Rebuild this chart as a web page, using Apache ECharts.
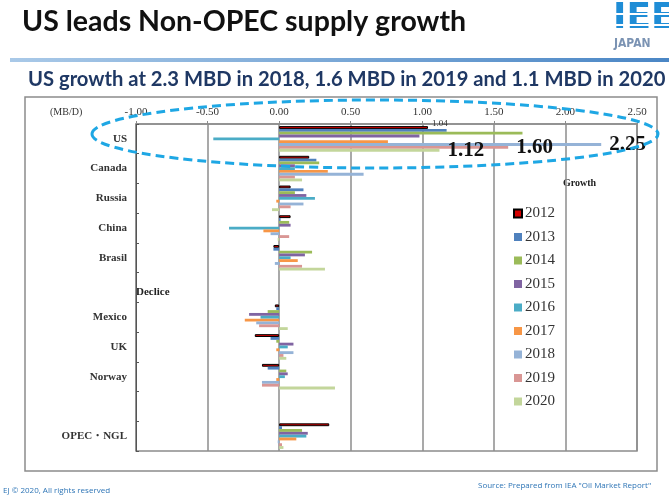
<!DOCTYPE html>
<html>
<head>
<meta charset="utf-8">
<script src="https://cdn.jsdelivr.net/npm/echarts@6/dist/echarts.min.js"></script>
<style>
  html, body { margin: 0; padding: 0; background: #fff; }
  #chart { width: 669px; height: 500px; }
</style>
</head>
<body>
<div id="chart"></div>
<script>
  // categories (the two blank rows are spacers in the original slide)
  var categories = ['US', 'Canada', 'Russia', 'China', 'Brasil', ' ', 'Mexico', 'UK', 'Norway', '  ', 'OPEC・NGL']
  var years = ['2012', '2013', '2014', '2015', '2016', '2017', '2018', '2019', '2020']
  var xTicks = { min: -1, max: 2.5, interval: 0.5 }

  // MB/D growth per year, same order as categories
  var y2012 = [1.04, 0.21, 0.08, 0.08, -0.04, null, -0.03, -0.17, -0.12, null, 0.35]
  var y2013 = [1.17, 0.26, 0.17, 0.01, -0.04, null, -0.02, -0.06, -0.08, null, 0.02]
  var y2014 = [1.70, 0.28, 0.11, 0.07, 0.23, null, -0.08, -0.02, 0.05, null, 0.16]
  var y2015 = [0.98, 0.11, 0.19, 0.08, 0.18, null, -0.21, 0.10, 0.06, null, 0.20]
  var y2016 = [-0.46, 0.11, 0.25, -0.35, 0.08, null, -0.13, 0.06, 0.04, null, 0.19]
  var y2017 = [0.76, 0.34, -0.02, -0.11, 0.13, null, -0.24, -0.02, -0.02, null, 0.12]
  var y2018 = [2.25, 0.59, 0.17, -0.06, -0.03, null, -0.16, 0.10, -0.12, null, -0.01]
  var y2019 = [1.60, 0.11, 0.08, 0.07, 0.16, null, -0.14, 0.03, -0.12, null, 0.02]
  var y2020 = [1.12, 0.16, -0.05, -0.01, 0.32, null, 0.06, 0.05, 0.39, null, 0.03]

  var yearData = [y2012, y2013, y2014, y2015, y2016, y2017, y2018, y2019, y2020]
  var colors = ['#d40000', '#4f81bd', '#9bbb59', '#8064a2', '#4bacc6', '#f79646', '#95b3d7', '#d99694', '#c3d69b']

  var serif = 'Liberation Serif, Times New Roman, serif'

  // US value call-outs: big labels for 2018-2020, small one for 2012
  var bigLabel = {
    show: true, position: 'right', distance: 8,
    fontFamily: serif, fontWeight: 'bold', fontSize: 21, color: '#111',
    formatter: function(p) { return p.value.toFixed(2) }
  }
  var smallLabel = {
    show: true, position: 'right', distance: 4, offset: [0, -4],
    fontFamily: serif, fontSize: 9, color: '#333',
    formatter: function(p) { return p.value.toFixed(2) }
  }

  var series = years.map(function(yr, i) {
    var data = yearData[i].map(function(v, j) {
      if (j !== 0) return v
      if (yr === '2012') return { value: v, label: smallLabel }
      if (yr === '2018' || yr === '2019' || yr === '2020') return { value: v, label: bigLabel }
      return v
    })
    return {
      name: yr,
      type: 'bar',
      yAxisIndex: 0,
      barGap: '0%',
      barCategoryGap: '14%',
      itemStyle: i === 0
        ? { color: colors[i], borderColor: '#000', borderWidth: 1 }
        : { color: colors[i] },
      emphasis: { disabled: true },
      data: data
    }
  })

  var chart = echarts.init(document.getElementById('chart'), null, { renderer: 'canvas' })

  chart.setOption({
    animation: false,
    backgroundColor: '#fff',
    grid: {
      left: 136, right: 32, top: 124, bottom: 49,
      show: true, borderColor: '#8c8c8c', borderWidth: 1.5
    },
    legend: {
      orient: 'vertical',
      left: 508, top: 201,
      itemWidth: 8, itemHeight: 8, itemGap: 8.5,
      icon: 'rect',
      selectedMode: false,
      textStyle: { fontFamily: serif, fontSize: 15, color: '#333', padding: [0, 0, 0, -2] },
      data: years
    },
    xAxis: {
      type: 'value',
      position: 'top',
      min: xTicks.min, max: xTicks.max, interval: xTicks.interval,
      axisLine: { show: true, lineStyle: { color: '#8c8c8c', width: 1.5 } },
      axisTick: { show: true, length: 3, lineStyle: { color: '#8c8c8c' } },
      axisLabel: {
        margin: 6, fontFamily: serif, fontSize: 11, color: '#333',
        formatter: function(v) { return v.toFixed(2) }
      },
      splitLine: { show: true, lineStyle: { color: '#8c8c8c', width: 1.5 } }
    },
    yAxis: [
      {
        type: 'category',
        inverse: true,
        data: categories,
        axisLine: { show: false },
        axisTick: { show: false },
        axisLabel: { margin: 9, fontFamily: serif, fontWeight: 'bold', fontSize: 11, color: '#333' }
      },
      {
        // zero line with small category ticks
        type: 'category',
        inverse: true,
        position: 'left',
        data: categories,
        axisLine: { show: true, onZero: true, lineStyle: { color: '#555', width: 1 } },
        axisTick: { show: true, inside: true, length: 3, lineStyle: { color: '#555' } },
        axisLabel: { show: false }
      }
    ],
    graphic: [
      // header
      { type: 'text', left: 22, top: 7, style: { text: 'US leads Non-OPEC supply growth', fontFamily: 'Lato', fontWeight: 'bold', fontSize: 28.5, fill: '#111' } },
      {
        type: 'rect', shape: { x: 10, y: 58, width: 659, height: 4 },
        style: { fill: new echarts.graphic.LinearGradient(0, 0, 1, 0, [{ offset: 0, color: '#a9c9e8' }, { offset: 1, color: '#4a86c5' }]) }
      },
      { type: 'text', left: 613, top: 1, style: { text: 'IEEJ', fontFamily: 'DejaVu Sans', fontWeight: 'bold', fontSize: 36, fill: '#1f8dd6' } },
      { type: 'rect', shape: { x: 610, y: 13, width: 59, height: 2 }, style: { fill: '#fff' } },
      { type: 'rect', shape: { x: 610, y: 24, width: 59, height: 2 }, style: { fill: '#fff' } },
      { type: 'text', left: 614, top: 38, style: { text: 'JAPAN', fontFamily: 'DejaVu Sans Condensed', fontWeight: 'bold', fontSize: 12, fill: '#7b93b3' } },
      { type: 'text', left: 28, top: 69, style: { text: 'US growth at 2.3 MBD in 2018, 1.6 MBD in 2019 and 1.1 MBD in 2020', fontFamily: 'Lato', fontWeight: 'bold', fontSize: 20.2, fill: '#1f3864' } },
      // chart frame
      { type: 'rect', z: -1, shape: { x: 25, y: 97, width: 632, height: 374 }, style: { fill: 'none', stroke: '#8c8c8c', lineWidth: 1.5 } },
      { type: 'text', left: 50, top: 107, style: { text: '(MB/D)', fontFamily: serif, fontSize: 10, fill: '#333' } },
      { type: 'text', left: 563, top: 178, style: { text: 'Growth', fontFamily: serif, fontWeight: 'bold', fontSize: 10, fill: '#222' } },
      { type: 'text', left: 136, top: 287, style: { text: 'Declice', fontFamily: serif, fontWeight: 'bold', fontSize: 11, fill: '#222' } },
      // highlight ellipse round the US row
      {
        type: 'ellipse', z: 100,
        shape: { cx: 375, cy: 134, rx: 283, ry: 34 },
        style: { fill: 'none', stroke: '#1ea7e4', lineWidth: 3, lineDash: [9, 5] }
      },
      // footer
      { type: 'text', left: 3, top: 487, style: { text: 'EJ © 2020, All rights reserved', fontFamily: 'Open Sans', fontSize: 8, fill: '#2e75b6' } },
      { type: 'text', left: 478, top: 482, style: { text: 'Source: Prepared from IEA "Oil Market Report"', fontFamily: 'Open Sans', fontSize: 8, fill: '#2e75b6' } }
    ],
    series: series
  })
</script>
</body>
</html>
